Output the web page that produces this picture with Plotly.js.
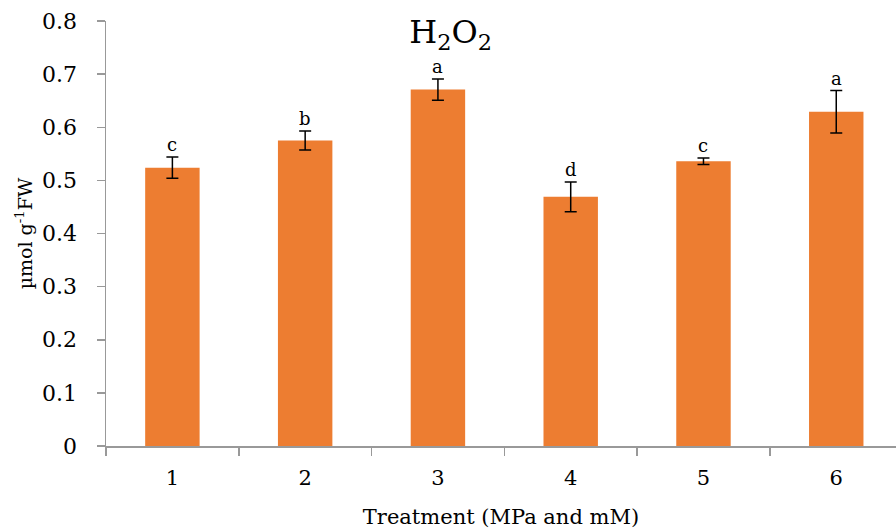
<!DOCTYPE html>
<html>
<head>
<meta charset="utf-8">
<script src="https://cdn.plot.ly/plotly-3.0.1.min.js"></script>
<style>html,body{margin:0;padding:0;background:#fff;}#chart{width:896px;height:532px;}</style>
</head>
<body>
<div id="chart"></div>
<script>
const categories = ["1", "2", "3", "4", "5", "6"];
const values = [0.524, 0.575, 0.671, 0.469, 0.536, 0.629];
const errors = [0.020, 0.018, 0.020, 0.028, 0.006, 0.040];
const letters = ["c", "b", "a", "d", "c", "a"];

const FONT = "DejaVu Serif, Liberation Serif, serif";

const bars = {
  type: "bar",
  x: categories,
  y: values,
  width: 0.41,
  marker: {color: "#ED7D31", line: {width: 0}},
  error_y: {type: "data", array: errors, visible: true, color: "#000", thickness: 1.5, width: 6}
};

const annotations = categories.map((c, i) => ({
  x: i, y: values[i] + errors[i], xref: "x", yref: "y",
  text: letters[i], showarrow: false, yanchor: "bottom", yshift: 0,
  font: {family: FONT, size: 18, color: "#000"}
}));

const layout = {
  width: 896, height: 532,
  margin: {l: 106, r: 0, t: 21, b: 86},
  paper_bgcolor: "#fff", plot_bgcolor: "#fff",
  showlegend: false,
  title: {text: "H<sub>2</sub>O<sub>2</sub>", x: 0.503, xanchor: "center", y: 0.94, yanchor: "middle",
          font: {family: FONT, size: 32, color: "#000"}},
  xaxis: {
    type: "category", range: [-0.5, 5.45],
    tickson: "boundaries", ticks: "outside", ticklen: 8, tickcolor: "#999", tickwidth: 1.5,
    showline: true, linecolor: "#999", linewidth: 1.5, showgrid: false, zeroline: false,
    ticklabelstandoff: 12,
    tickfont: {family: FONT, size: 21, color: "#000"},
    title: {text: "Treatment (MPa and mM)", font: {family: FONT, size: 21, color: "#000"}, standoff: 20}
  },
  yaxis: {
    range: [0, 0.8], dtick: 0.1,
    ticks: "outside", ticklen: 8, tickcolor: "#999", tickwidth: 1.5,
    showline: true, linecolor: "#999", linewidth: 1.5, showgrid: false, zeroline: false,
    ticklabelstandoff: 15,
    tickfont: {family: FONT, size: 22, color: "#000"},
    title: {text: "µmol g<sup>-1</sup>FW", font: {family: FONT, size: 19, color: "#000"}, standoff: 4}
  },
  annotations: annotations
};

Plotly.newPlot("chart", [bars], layout, {displayModeBar: false, staticPlot: true});
</script>
</body>
</html>
